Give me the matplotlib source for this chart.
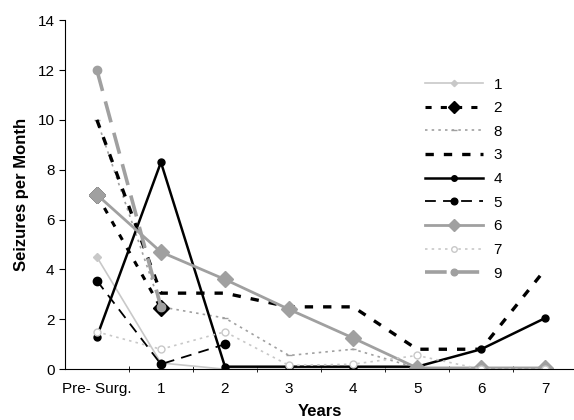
"""
plot.py - seizures per month after surgery, per patient
"""

import matplotlib
matplotlib.use("Agg")
import matplotlib.pyplot as plt
import numpy as np

plt.rcParams['font.family'] = ['Liberation Sans', 'DejaVu Sans']

categories = ["Pre- Surg.", "1", "2", "3", "4", "5", "6", "7"]

# values per patient (shorter lists = no later data)
p1 = [4.5, 0.25, 0.0, 0.0, 0.0, 0.0, 0.0, 0.0]
p2 = [7.0, 2.45]
p8 = [10.0, 2.5, 2.05, 0.55, 0.8, 0.05, 0.05, 0.05]
p3 = [10.0, 3.05, 3.05, 2.5, 2.5, 0.8, 0.8, 4.0]
p4 = [1.3, 8.3, 0.1, 0.1, 0.1, 0.1, 0.8, 2.05]
p5 = [3.55, 0.2, 1.0]
p6 = [7.0, 4.7, 3.6, 2.4, 1.25, 0.05, 0.05, 0.05]
p7 = [1.5, 0.8, 1.5, 0.15, 0.2, 0.55, 0.0, 0.0]
p9 = [12.0, 2.5]

light = '#c8c8c8'
mid = '#a0a0a0'

fig = plt.figure(figsize=(5.74, 4.2), dpi=100)
ax = fig.add_axes([0.113, 0.121, 0.887, 0.831])

def draw(vals, label, **kw):
    x = np.arange(len(vals))
    ax.plot(x, vals, label=label, **kw)

draw(p1, "1", color=light, lw=1.2, marker='D', ms=4)
draw(p2, "2", color='black', lw=2.2, dashes=(2, 3), marker='D', ms=8)
draw(p8, "8", color=mid, lw=1.2, dashes=(1.5, 2.5), marker='_', ms=5)
draw(p3, "3", color='black', lw=2.4, dashes=(2.5, 3))
draw(p4, "4", color='black', lw=1.8, marker='o', ms=5)
draw(p5, "5", color='black', lw=1.3, dashes=(6, 4), marker='o', ms=6)
draw(p6, "6", color=mid, lw=2.0, marker='D', ms=8)
draw(p7, "7", color=light, lw=1.2, dashes=(1.5, 2.5), marker='o', ms=5,
     mfc='white', mec=light)
draw(p9, "9", color=mid, lw=2.6, dashes=(6, 3), marker='o', ms=6)

ax.set_xlim(-0.5, 7.45)
ax.set_ylim(0, 14)
ax.set_yticks(np.arange(0, 15, 2))
ax.set_xticks(np.arange(len(categories)))
ax.set_xticklabels(categories)
ax.set_xticks(np.arange(0.5, 7.5, 1), minor=True)
ax.tick_params(axis='x', which='major', length=0, labelsize=11, pad=9)
ax.tick_params(axis='x', which='minor', length=4, direction='inout')
ax.tick_params(axis='y', labelsize=11, length=4, direction='out')

for s in ['top', 'right']:
    ax.spines[s].set_visible(False)

ax.set_ylabel("Seizures per Month", fontsize=12, fontweight='bold', labelpad=6)
ax.set_xlabel("Years", fontsize=12, fontweight='bold', labelpad=6)

ax.legend(loc='upper left', bbox_to_anchor=(0.68, 0.875), frameon=False,
          fontsize=11, handlelength=3.8, labelspacing=0.63, handletextpad=0.7,
          markerscale=0.8)

plt.savefig("out.png", dpi=100)
